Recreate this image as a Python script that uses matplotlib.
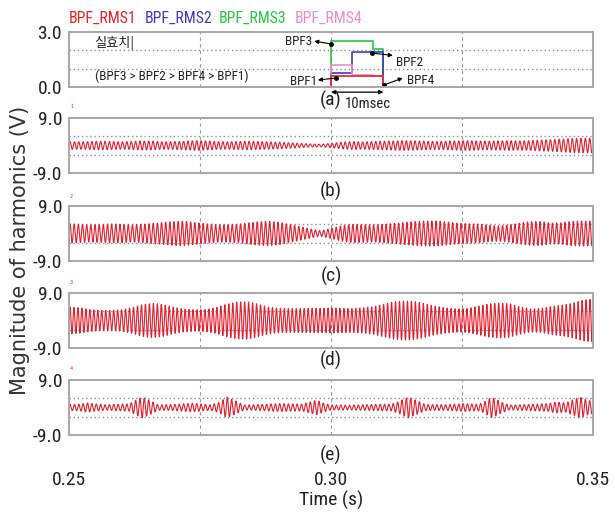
import numpy as np
import matplotlib
matplotlib.use("Agg")
import matplotlib.pyplot as plt

NARROW = ["Liberation Sans Narrow", "Arial Narrow", "Roboto Condensed", "Archivo Narrow",
          "PT Sans Narrow", "Sofia Sans Condensed", "DejaVu Sans"]
KOREAN = ["Noto Sans CJK KR", "DejaVu Sans"]

# legend names / colours
names = ["BPF_RMS1", "BPF_RMS2", "BPF_RMS3", "BPF_RMS4"]
colors = ["#e8202a", "#3c3cc0", "#28c840", "#f08cc8"]

# (a) RMS values of the four band-pass filters (steps-post)
rms_t = [0.250, 0.300, 0.304, 0.308, 0.310, 0.350]
rms1 = [0.0, 0.62, 0.62, 0.58, 0.0, 0.0]
rms2 = [0.0, 0.78, 1.90, 1.90, 0.0, 0.0]
rms3 = [0.0, 2.50, 2.50, 2.05, 0.0, 0.0]
rms4 = [0.0, 1.20, 0.68, 0.62, 0.0, 0.0]

# (b)-(d) envelope of the filtered signals, read every 2 ms
env_t = [0.250, 0.252, 0.254, 0.256, 0.258, 0.260, 0.262, 0.264, 0.266, 0.268,
         0.270, 0.272, 0.274, 0.276, 0.278, 0.280, 0.282, 0.284, 0.286, 0.288,
         0.290, 0.292, 0.294, 0.296, 0.298, 0.300, 0.302, 0.304, 0.306, 0.308,
         0.310, 0.312, 0.314, 0.316, 0.318, 0.320, 0.322, 0.324, 0.326, 0.328,
         0.330, 0.332, 0.334, 0.336, 0.338, 0.340, 0.342, 0.344, 0.346, 0.348,
         0.350]
env_b = [1.3, 1.2, 1.3, 1.4, 1.3, 1.2, 1.3, 1.5, 1.4, 1.2,
         1.3, 1.4, 1.6, 1.5, 1.3, 1.2, 1.3, 1.4, 1.3, 1.2,
         1.1, 0.9, 0.7, 0.5, 0.4, 0.7, 1.1, 1.3, 1.2, 1.3,
         1.4, 1.5, 1.6, 1.5, 1.4, 1.3, 1.4, 1.5, 1.6, 1.5,
         1.4, 1.5, 1.6, 1.5, 1.6, 1.8, 1.9, 2.1, 2.3, 2.4,
         2.4]
env_c = [3.2, 3.0, 2.8, 2.9, 3.1, 3.0, 2.8, 3.0, 3.3, 3.6,
         3.9, 4.0, 3.6, 3.2, 2.9, 2.8, 3.0, 3.4, 3.8, 4.0,
         3.7, 3.0, 2.3, 1.5, 0.9, 1.6, 2.5, 3.0, 2.9, 2.8,
         3.0, 3.3, 3.6, 3.9, 4.1, 4.1, 3.8, 3.4, 3.2, 3.1,
         2.7, 2.5, 2.8, 3.4, 3.9, 3.9, 3.4, 3.5, 4.0, 4.1,
         4.0]
env_d = [4.4, 4.2, 3.6, 3.3, 3.3, 3.5, 4.2, 5.2, 5.6, 5.2,
         4.3, 3.7, 3.5, 3.6, 4.2, 5.3, 6.0, 6.1, 5.4, 4.4,
         4.0, 3.9, 3.9, 4.0, 4.0, 4.1, 4.0, 3.9, 4.1, 4.5,
         5.3, 6.1, 6.4, 6.2, 5.5, 4.6, 4.1, 3.8, 3.9, 4.6,
         5.4, 5.7, 5.5, 4.5, 3.8, 3.9, 4.6, 5.0, 5.6, 6.6,
         7.0]

# (e) envelope with short bursts
env_te = [0.250, 0.252, 0.2535, 0.255, 0.257, 0.2615, 0.2625, 0.264, 0.2655, 0.267,
          0.270, 0.2735, 0.275, 0.277, 0.2785, 0.2802, 0.282, 0.2835, 0.287, 0.290,
          0.2945, 0.2962, 0.2972, 0.2985, 0.300, 0.304, 0.308, 0.3115, 0.313, 0.3147,
          0.3165, 0.318, 0.322, 0.3255, 0.328, 0.329, 0.3307, 0.3325, 0.334, 0.338,
          0.3415, 0.343, 0.3448, 0.3462, 0.3475, 0.349, 0.350]
env_e = [1.0, 1.1, 1.5, 1.2, 0.9, 1.2, 2.2, 3.4, 2.3, 0.9,
         1.0, 1.4, 1.2, 0.9, 1.6, 3.4, 2.0, 0.8, 1.0, 1.3,
         1.1, 1.9, 2.4, 1.5, 0.8, 0.8, 1.0, 1.1, 2.0, 3.4,
         2.2, 1.0, 0.9, 1.3, 1.0, 1.6, 3.4, 1.8, 0.8, 1.0,
         1.3, 1.8, 1.5, 2.5, 3.4, 2.4, 2.0]

# carrier frequency of each band (Hz)
freqs = [1200, 1260, 1320, 1200]

panel_labels = ["(a)", "(b)", "(c)", "(d)", "(e)"]
label_y = [100, 191, 276, 360, 455]
panel_px = [(32, 87), (118, 173), (206, 261), (293, 348), (380, 435)]
grid_x = [0.275, 0.300, 0.325]
W, H = 615, 520


def fy(py):
    return 1 - py / H


fig = plt.figure(figsize=(6.15, 5.2), dpi=100)
axes = []
for top, bot in panel_px:
    ax = fig.add_axes([69 / W, fy(bot), 524 / W, (bot - top) / H])
    ax.set_xlim(0.25, 0.35)
    for s in ax.spines.values():
        s.set_color("#a8a8a8")
        s.set_linewidth(1.4)
    for gx in grid_x:
        ax.axvline(gx, color="#9a9a9a", ls=(0, (3, 3)), lw=0.8, zorder=0)
    ax.tick_params(length=0, pad=5, labelsize=14, colors="#222222")
    ax.set_xticks([])
    axes.append(ax)

# panel (a)
ax = axes[0]
ax.set_ylim(0, 3)
ax.set_yticks([0, 3], ["0.0", "3.0"], family=NARROW)
for gy in [1, 2]:
    ax.axhline(gy, color="#7f959f", ls=(0, (1, 2)), lw=1.0, zorder=0)
for vals, c in zip([rms3, rms2, rms4, rms1], [colors[2], colors[1], colors[3], colors[0]]):
    ax.step(rms_t, vals, where="post", color=c, lw=1.2, clip_on=False)
ax.text(0.2549, 2.42, "실효치|", family=KOREAN, fontsize=9.5, va="center", color="#222222")
ax.text(0.2549, 0.57, "(BPF3 > BPF2 > BPF4 > BPF1)", family=NARROW, fontsize=9.5,
        va="center", color="#222222")

arrows = [("BPF3", (0.3000, 2.35), (0.2968, 2.50), (0.2964, 2.50), "right"),
          ("BPF1", (0.3010, 0.49), (0.2975, 0.38), (0.2973, 0.30), "right"),
          ("BPF2", (0.3078, 1.85), (0.3118, 1.72), (0.3124, 1.36), "left"),
          ("BPF4", (0.3101, 0.11), (0.3137, 0.49), (0.3145, 0.33), "left")]
for name, tail, head, tpos, ha in arrows:
    ax.annotate("", xy=head, xytext=tail, annotation_clip=False,
                arrowprops=dict(arrowstyle="-|>", color="k", lw=0.8, mutation_scale=6,
                                shrinkA=0, shrinkB=0))
    ax.plot(*tail, "ko", ms=2.5, clip_on=False)
    ax.text(*tpos, name, family=NARROW, fontsize=9.5, ha=ha, va="center", color="#222222")

ax.annotate("", xy=(0.310, -0.28), xytext=(0.300, -0.28), annotation_clip=False,
            arrowprops=dict(arrowstyle="<|-|>", color="k", lw=0.9, mutation_scale=6,
                            shrinkA=0, shrinkB=0))
fig.text(368 / W, fy(104), "10msec", family=NARROW, fontsize=10.5, ha="center",
         va="center", color="#222222")

# panels (b)-(e)
time = np.linspace(0.25, 0.35, 24001)
env_list = [(env_t, env_b), (env_t, env_c), (env_t, env_d), (env_te, env_e)]
marks_y = [107, 196, 282, 368]
for i, (et, ev) in enumerate(env_list):
    ax = axes[i + 1]
    ax.set_ylim(-9, 9)
    ax.set_yticks([-9, 9], ["-9.0", "9.0"], family=NARROW)
    for gy in [-3, 3]:
        ax.axhline(gy, color="#7f959f", ls=(0, (1, 2)), lw=1.0, zorder=0)
    wave = np.interp(time, et, ev) * np.sin(2 * np.pi * freqs[i] * time)
    ax.plot(time, wave, color="#e3202e", lw=0.8)
    fig.text(70 / W, fy(marks_y[i]), str(i + 1), fontsize=3.5, color="#e8202a",
             ha="left", va="center")

# x axis of the last panel
ax = axes[-1]
ax.set_xticks([0.25, 0.30, 0.35], ["0.25", "0.30", "0.35"], family=NARROW)
ax.tick_params(axis="x", length=0, pad=26, labelsize=14)
ax.set_xlabel("Time (s)", family=NARROW, fontsize=14, labelpad=1, color="#222222")

for lab, y in zip(panel_labels, label_y):
    fig.text(331 / W, fy(y), lab, family=NARROW, fontsize=14, ha="center",
             va="center", color="#222222")

legend_x = [69, 145, 219, 295]
for name, c, x in zip(names, colors, legend_x):
    fig.text(x / W, fy(18), name, family=NARROW, fontsize=11.3, color=c, va="center")

fig.text(20 / W, fy(250), "Magnitude of harmonics (V)", rotation=90, fontsize=15,
         ha="center", va="center", color="#333333")

fig.savefig("out.png", dpi=100)
